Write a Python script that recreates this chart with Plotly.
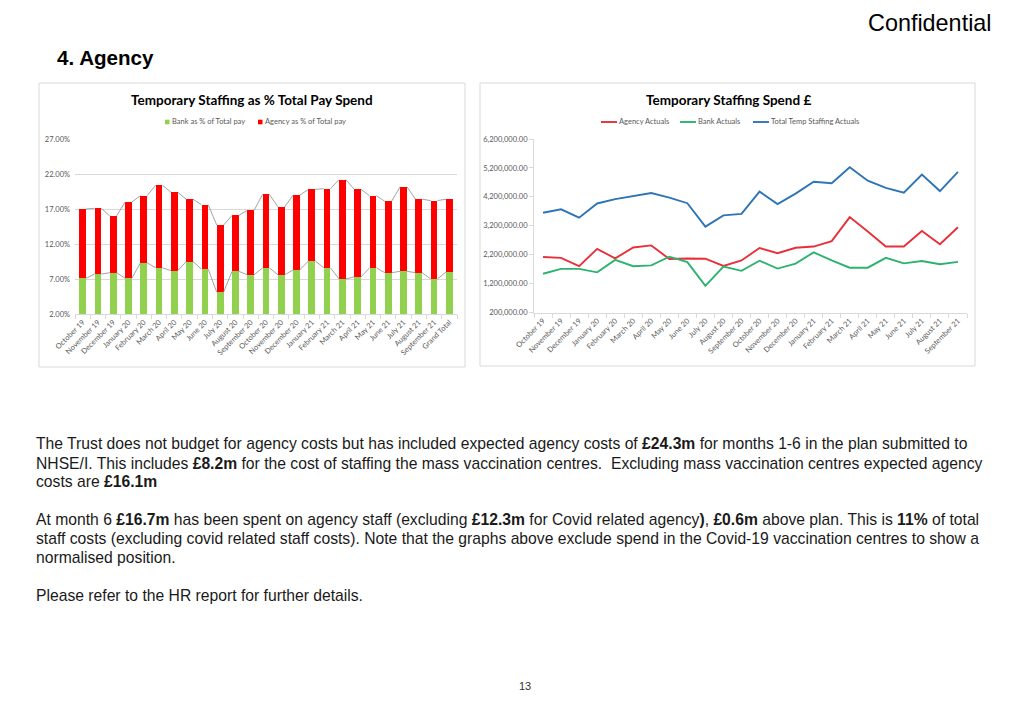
import plotly.graph_objects as go

# ---------------- data ----------------
months = ["October 19", "November 19", "December 19", "January 20", "February 20",
          "March 20", "April 20", "May 20", "June 20", "July 20", "August 20",
          "September 20", "October 20", "November 20", "December 20", "January 21",
          "February 21", "March 21", "April 21", "May 21", "June 21", "July 21",
          "August 21", "September 21"]
pct_categories = months + ["Grand Total"]

bank_pct = [7.1, 7.7, 7.9, 7.1, 9.3, 8.6, 8.2, 9.5, 8.4, 5.1, 8.1, 7.6, 8.6,
            7.6, 8.3, 9.6, 8.6, 7.0, 7.3, 8.6, 7.9, 8.1, 7.9, 7.0, 8.0]
agency_pct = [9.9, 9.4, 8.1, 10.9, 9.6, 11.8, 11.2, 8.9, 9.2, 9.6, 8.0, 9.2, 10.5,
              9.7, 10.7, 10.2, 11.3, 14.2, 12.5, 10.3, 10.2, 12.1, 10.5, 11.2, 10.4]

agency_actuals = [2120000, 2090000, 1800000, 2400000, 2070000, 2450000, 2520000,
                  2050000, 2070000, 2060000, 1810000, 2000000, 2430000, 2250000,
                  2440000, 2480000, 2670000, 3500000, 3000000, 2480000, 2480000,
                  3020000, 2560000, 3150000]
bank_actuals = [1540000, 1710000, 1710000, 1590000, 2020000, 1800000, 1830000,
                2130000, 1940000, 1120000, 1790000, 1640000, 1990000, 1720000,
                1890000, 2280000, 2000000, 1750000, 1750000, 2090000, 1900000,
                1980000, 1870000, 1950000]
total_actuals = [3650000, 3770000, 3480000, 3970000, 4120000, 4230000, 4330000,
                 4170000, 3980000, 3170000, 3560000, 3610000, 4380000, 3950000,
                 4310000, 4720000, 4670000, 5220000, 4760000, 4510000, 4340000,
                 4970000, 4400000, 5060000]

pct_ticks = [2, 7, 12, 17, 22, 27]
pct_ticktext = [f"{v:.2f}%" for v in pct_ticks]
spend_ticks = [200000, 1200000, 2200000, 3200000, 4200000, 5200000, 6200000]

bar_series = [("Bank as % of Total pay", "#92D050"), ("Agency as % of Total pay", "#FF0000")]
line_series = [("Agency Actuals", "#E8303A"), ("Bank Actuals", "#2DB36F"),
               ("Total Temp Staffing Actuals", "#2E75B6")]

# ---------------- helpers (page pixel -> paper) ----------------
W, H = 1024, 709
OX, OY = 8, 8          # page body offset of the plot div
def px(x):
    return (x - OX) / W
def py(y):
    return 1 - (y - OY) / H

BAR_GAP = 0.56
bar_w = 1 - BAR_GAP

CHART_FONT = "Lato"
TICK_COLOR = "#595959"

fig = go.Figure()

# ---------------- left chart: stacked bars ----------------
for (name, color), vals in zip(bar_series, (bank_pct, agency_pct)):
    fig.add_trace(go.Bar(x=pct_categories, y=vals, name=name,
                         marker=dict(color=color, line=dict(width=0)),
                         xaxis="x", yaxis="y", showlegend=False))

# series lines connecting tops of stacked segments between bars
tops_bank = bank_pct
tops_total = [b + a for b, a in zip(bank_pct, agency_pct)]
for tops in (tops_bank, tops_total):
    sx, sy = [], []
    for i in range(len(tops) - 1):
        sx += [i + bar_w / 2, i + 1 - bar_w / 2, None]
        sy += [tops[i], tops[i + 1], None]
    fig.add_trace(go.Scatter(x=sx, y=sy, mode="lines", showlegend=False,
                             line=dict(color="#8c8c8c", width=0.8),
                             hoverinfo="skip", xaxis="x3", yaxis="y"))

# ---------------- right chart: lines ----------------
for (name, color), vals in zip(line_series, (agency_actuals, bank_actuals, total_actuals)):
    fig.add_trace(go.Scatter(x=months, y=vals, name=name, mode="lines",
                             line=dict(color=color, width=1.9),
                             xaxis="x2", yaxis="y2", showlegend=False))

tickfont = dict(family=CHART_FONT, size=7.5, color=TICK_COLOR)

left_dom = [px(75), px(457)]
left_ydom = [py(314), py(139)]
right_dom = [px(534), px(967)]
right_ydom = [py(312.5), py(139)]

fig.update_layout(
    width=W, height=H,
    margin=dict(l=0, r=0, t=0, b=0, autoexpand=False),
    paper_bgcolor="white", plot_bgcolor="rgba(0,0,0,0)",
    barmode="stack", bargap=BAR_GAP,
    showlegend=False,
    xaxis=dict(domain=left_dom, anchor="y", type="category", automargin=False,
               showline=True, linecolor="#d9d9d9", linewidth=1,
               ticks="outside", ticklen=4, tickcolor="#d9d9d9", tickson="boundaries",
               tickangle=-45, tickfont=tickfont, showgrid=False, fixedrange=True),
    xaxis3=dict(domain=left_dom, anchor="y", overlaying="x", range=[-0.5, 24.5],
                visible=False, fixedrange=True, automargin=False),
    yaxis=dict(domain=left_ydom, anchor="x", range=[2, 27], tickvals=pct_ticks,
               ticktext=pct_ticktext, tickfont=tickfont, automargin=False,
               showgrid=True, gridcolor="#d9d9d9", gridwidth=1, zeroline=False,
               showline=False, ticks="", ticklabelstandoff=4, fixedrange=True),
    xaxis2=dict(domain=right_dom, anchor="y2", type="category", range=[-0.5, 23.5],
                automargin=False,
                showline=True, linecolor="#d9d9d9", linewidth=1,
                ticks="outside", ticklen=4, tickcolor="#d9d9d9", tickson="boundaries",
                tickangle=-45, tickfont=tickfont, showgrid=False, fixedrange=True),
    yaxis2=dict(domain=right_ydom, anchor="x2", range=[200000, 6200000], automargin=False,
                tickvals=spend_ticks, tickformat=",.2f", tickfont=tickfont,
                showgrid=False, zeroline=False, showline=True, linecolor="#d9d9d9",
                ticks="outside", ticklen=4, tickcolor="#d9d9d9", fixedrange=True),
)

# ---------------- frames + legend keys ----------------
shapes = [
    dict(type="rect", xref="paper", yref="paper", x0=px(39), x1=px(465), y0=py(367), y1=py(83),
         line=dict(color="#d9d9d9", width=1), layer="below"),
    dict(type="rect", xref="paper", yref="paper", x0=px(480), x1=px(975), y0=py(366), y1=py(83),
         line=dict(color="#d9d9d9", width=1), layer="below"),
]
ann = []
legend_font = dict(family=CHART_FONT, size=7.5, color=TICK_COLOR)
LEG_Y = 122

# left legend: small squares
for (name, color), x0 in zip(bar_series, [165, 258]):
    shapes.append(dict(type="rect", xref="paper", yref="paper",
                       x0=px(x0), x1=px(x0 + 4.5), y0=py(LEG_Y + 2.3), y1=py(LEG_Y - 2.3),
                       fillcolor=color, line=dict(width=0)))
    ann.append(dict(text=name, x=px(x0 + 5), y=py(LEG_Y), xref="paper", yref="paper",
                    showarrow=False, xanchor="left", yanchor="middle", font=legend_font))

# right legend: short line samples
for (name, color), x0 in zip(line_series, [601, 680, 753]):
    shapes.append(dict(type="line", xref="paper", yref="paper",
                       x0=px(x0), x1=px(x0 + 16), y0=py(LEG_Y), y1=py(LEG_Y),
                       line=dict(color=color, width=1.9)))
    ann.append(dict(text=name, x=px(x0 + 16), y=py(LEG_Y), xref="paper", yref="paper",
                    showarrow=False, xanchor="left", yanchor="middle", font=legend_font))

fig.update_layout(shapes=shapes)

# chart titles
ann.append(dict(text="<b>Temporary Staffing as % Total Pay Spend</b>", x=px(252), y=py(100),
                xref="paper", yref="paper", showarrow=False, xanchor="center", yanchor="middle",
                font=dict(family=CHART_FONT, size=13.5, color="#000000")))
ann.append(dict(text="<b>Temporary Staffing Spend £</b>", x=px(728), y=py(100),
                xref="paper", yref="paper", showarrow=False, xanchor="center", yanchor="middle",
                font=dict(family=CHART_FONT, size=13.5, color="#000000")))

# slide header (box kept fully inside the page)
ann.append(dict(text="Confidential", x=px(993), y=py(8), xref="paper", yref="paper",
                showarrow=False, xanchor="right", yanchor="top", height=28, valign="middle",
                borderpad=0,
                font=dict(family="Liberation Sans", size=23.4, color="#000000")))
ann.append(dict(text="<b>4. Agency</b>", x=px(55), y=py(57), xref="paper", yref="paper",
                showarrow=False, xanchor="left", yanchor="middle",
                font=dict(family="Liberation Sans", size=20.6, color="#000000")))

body_lines = [
    ("The Trust does not budget for agency costs but has included expected agency costs of <b>£24.3m</b> for months 1-6 in the plan submitted to", 443),
    ("NHSE/I. This includes <b>£8.2m</b> for the cost of staffing the mass vaccination centres.&nbsp; Excluding mass vaccination centres expected agency", 463),
    ("costs are <b>£16.1m</b>", 481),
    ("At month 6 <b>£16.7m</b> has been spent on agency staff (excluding <b>£12.3m</b> for Covid related agency<b>)</b>, <b>£0.6m</b> above plan. This is <b>11%</b> of total", 519),
    ("staff costs (excluding covid related staff costs). Note that the graphs above exclude spend in the Covid-19 vaccination centres to show a", 538),
    ("normalised position.", 557),
    ("Please refer to the HR report for further details.", 595),
]
for t, yy in body_lines:
    ann.append(dict(text=t, x=px(34), y=py(yy), xref="paper", yref="paper",
                    showarrow=False, xanchor="left", yanchor="middle",
                    font=dict(family="Liberation Sans", size=15.7, color="#1a1a1a")))

ann.append(dict(text="13", x=px(525), y=py(686), xref="paper", yref="paper",
                showarrow=False, xanchor="center", yanchor="middle",
                font=dict(family="Liberation Sans", size=11, color="#333333")))

fig.update_layout(annotations=ann)

fig.write_html("out.html")
